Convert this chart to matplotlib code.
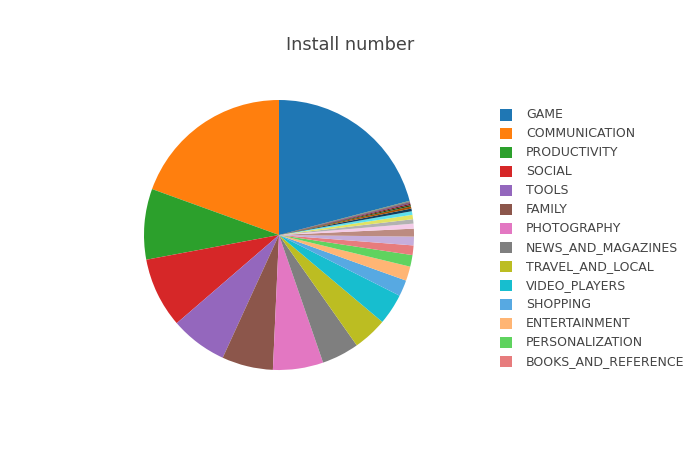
import colorsys
import matplotlib
matplotlib.use("Agg")
import matplotlib.pyplot as plt
from matplotlib.patches import Rectangle

categories = [
    "GAME", "COMMUNICATION", "PRODUCTIVITY", "SOCIAL", "TOOLS", "FAMILY",
    "PHOTOGRAPHY", "NEWS_AND_MAGAZINES", "TRAVEL_AND_LOCAL", "VIDEO_PLAYERS",
    "SHOPPING", "ENTERTAINMENT", "PERSONALIZATION", "BOOKS_AND_REFERENCE",
    "SPORTS", "HEALTH_AND_FITNESS", "BUSINESS", "FINANCE", "EDUCATION",
    "MAPS_AND_NAVIGATION", "LIFESTYLE", "WEATHER", "FOOD_AND_DRINK", "DATING",
    "HOUSE_AND_HOME", "ART_AND_DESIGN", "LIBRARIES_AND_DEMO", "COMICS",
    "MEDICAL", "AUTO_AND_VEHICLES", "PARENTING", "BEAUTY", "EVENTS",
]
# installs, in billions
installs = [
    35.08, 32.65, 14.18, 14.07, 11.45, 10.26,
    10.09, 7.50, 6.87, 6.22,
    3.25, 2.87, 2.33, 1.92,
    1.75, 1.58, 1.00, 0.876, 0.875,
    0.72, 0.54, 0.43, 0.27, 0.26,
    0.17, 0.13, 0.06, 0.057,
    0.054, 0.054, 0.031, 0.027, 0.016,
]
legend_shown = 14
title = "Install number"

base = ["#1f77b4", "#ff7f0e", "#2ca02c", "#d62728", "#9467bd",
        "#8c564b", "#e377c2", "#7f7f7f", "#bcbd22", "#17becf"]

def shift(hexc, d):
    r, g, b = matplotlib.colors.to_rgb(hexc)
    h, l, s = colorsys.rgb_to_hls(r, g, b)
    l = min(1.0, max(0.0, l + d))
    return colorsys.hls_to_rgb(h, l, s)

palette = [matplotlib.colors.to_rgb(c) for c in base] + \
          [shift(c, 0.2) for c in base] + [shift(c, -0.2) for c in base]
colors = [palette[i % len(palette)] for i in range(len(categories))]

W, H = 700, 450
fig = plt.figure(figsize=(7, 4.5), dpi=100)
cx, cy, R = 279, 235, 135
ax = fig.add_axes([(cx - R) / W, (H - cy - R) / H, 2 * R / W, 2 * R / H])
total = sum(installs)
start = 90 - 360 * installs[0] / total
ax.pie(installs, colors=colors, startangle=start, counterclock=True,
       wedgeprops=dict(linewidth=0))
ax.set_xlim(-1, 1)
ax.set_ylim(-1, 1)
ax.set_aspect("equal")
ax.axis("off")

fig.text(350 / W, 1 - 45 / H, title, ha="center", va="center",
         fontsize=12.75, color="#444444", family="DejaVu Sans")

y0, dy = 115, 18.95
for i in range(legend_shown):
    y = y0 + i * dy
    fig.add_artist(Rectangle((500 / W, 1 - (y + 5.5) / H), 12 / W, 11 / H,
                             transform=fig.transFigure, facecolor=colors[i],
                             edgecolor="none"))
    fig.text(526 / W, 1 - y / H, categories[i], ha="left", va="center",
             fontsize=9, color="#444444", family="DejaVu Sans")

fig.savefig("out.png", dpi=100)
